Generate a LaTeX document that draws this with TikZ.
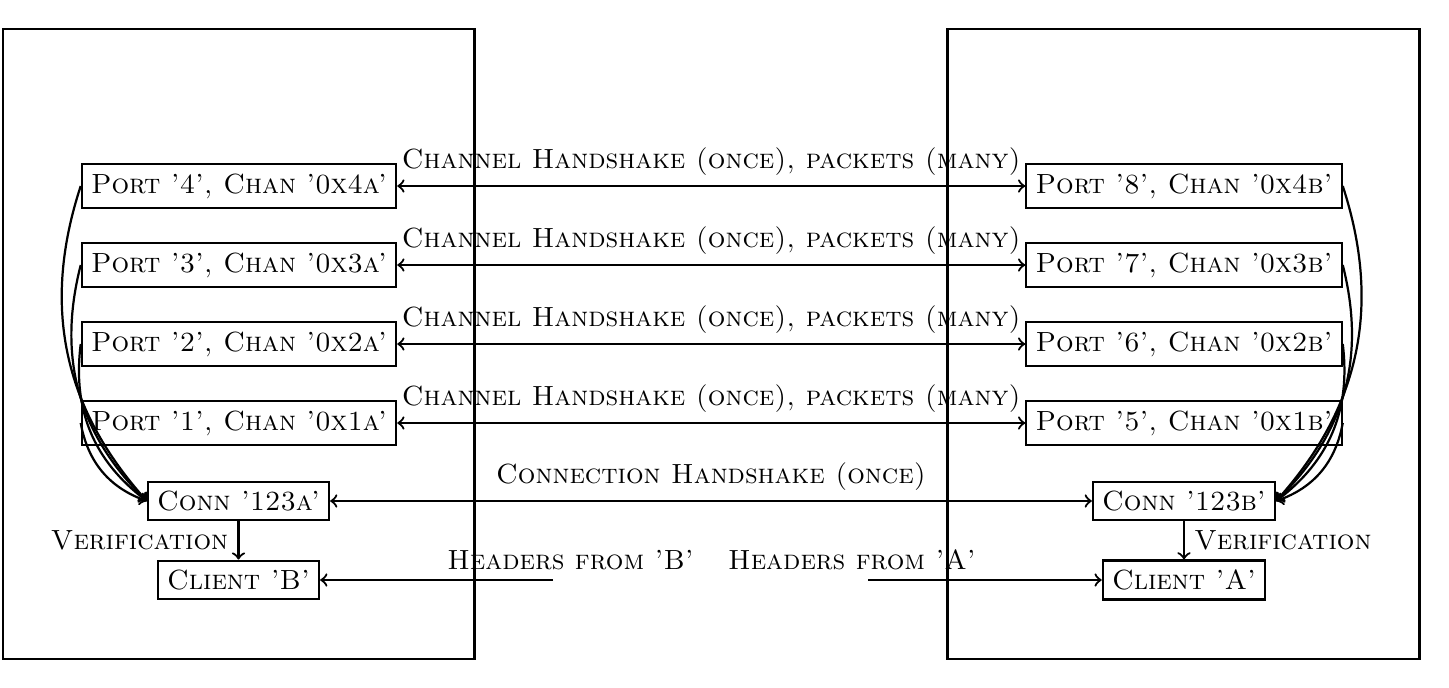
\documentclass[tikz,border=0pt]{standalone}
\usetikzlibrary{arrows}
\begin{document}
\begin{tikzpicture}[x=0.3608pt,y=-0.3608pt,
  box/.style={draw,thick,font=\scshape,inner sep=3.33pt},
  lbl/.style={font=\scshape,inner sep=3.33pt},
  conn/.style={thick,->},
  bconn/.style={thick,<->},
  chain/.style={draw,thick}]
\useasboundingbox (0,0) rectangle (1449,688);
% left side
\node[box] (p4) at (239,186) {Port '4', Chan '0x4a'};
\node[box] (p3) at (239,265) {Port '3', Chan '0x3a'};
\node[box] (p2) at (239,344) {Port '2', Chan '0x2a'};
\node[box] (p1) at (239,423) {Port '1', Chan '0x1a'};
\node[box] (ca) at (238.5,501) {Conn '123a'};
\node[box] (cb) at (238.5,580) {Client 'B'};
% right side
\node[box] (p8) at (1184,186) {Port '8', Chan '0x4b'};
\node[box] (p7) at (1184,265) {Port '7', Chan '0x3b'};
\node[box] (p6) at (1184,344) {Port '6', Chan '0x2b'};
\node[box] (p5) at (1184,423) {Port '5', Chan '0x1b'};
\node[box] (cbb) at (1184,501) {Conn '123b'};
\node[box] (cla) at (1184,580) {Client 'A'};
% channel handshakes
\foreach \a/\b in {p4/p8,p3/p7,p2/p6,p1/p5}
  \draw[bconn] (\a) -- node[lbl,above] {Channel Handshake (once), packets (many)} (\b);
\draw[bconn] (ca) -- node[lbl,above] {Connection Handshake (once)} (cbb);
% port to connection curves
\foreach \a in {p4,p3,p2,p1}
  \draw[conn] (\a.west) to[bend right] (ca.west);
\foreach \a in {p8,p7,p6,p5}
  \draw[conn] (\a.east) to[bend left] (cbb.east);
% verification
\draw[conn] (ca) -- node[lbl,left] {Verification} (cb);
\draw[conn] (cbb) -- node[lbl,right] {Verification} (cla);
% headers
\coordinate (hb) at (553,580);
\coordinate (ha) at (868,580);
\node[lbl] (thb) at (570.5,560) {Headers from 'B'};
\node[lbl] (tha) at (852,560) {Headers from 'A'};
\draw[conn] (hb) -- (cb);
\draw[conn] (ha) -- (cla);
% chains
\draw[chain] (3,29) rectangle (474.5,659);
\draw[chain] (947.5,29) rectangle (1419.5,659);
\end{tikzpicture}
\end{document}
